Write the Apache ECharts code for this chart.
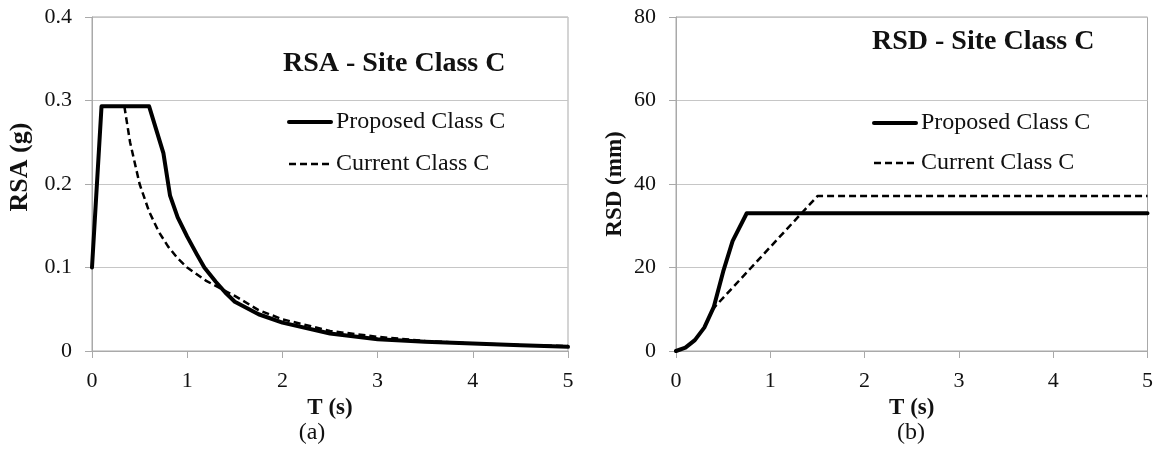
<!DOCTYPE html>
<html>
<head>
<meta charset="utf-8">
<script src="https://cdn.jsdelivr.net/npm/echarts@6/dist/echarts.min.js"></script>
<style>
  html, body { margin: 0; padding: 0; background: #ffffff; }
  #chart { width: 1156px; height: 453px; }
</style>
</head>
<body>
<div id="chart"></div>
<script>
// Spectral acceleration, site class C (g)
const rsaProposedT = [0, 0.1, 0.6, 0.75, 0.82, 0.9, 1.0, 1.1, 1.18, 1.3, 1.4, 1.5, 1.75, 2.0, 2.5, 3.0, 3.5, 4.0, 4.5, 5.0];
const rsaProposed  = [0.100, 0.293, 0.293, 0.237, 0.186, 0.160, 0.137, 0.116, 0.100, 0.083, 0.070, 0.059, 0.044, 0.034, 0.021, 0.014, 0.011, 0.009, 0.007, 0.005];
const rsaCurrentT  = [0.34, 0.4, 0.5, 0.6, 0.7, 0.8, 0.9, 1.0, 1.2, 1.5, 1.75, 2.0, 2.5, 3.0, 3.5, 4.0, 4.5, 5.0];
const rsaCurrent   = [0.293, 0.250, 0.200, 0.167, 0.143, 0.125, 0.111, 0.100, 0.084, 0.066, 0.049, 0.038, 0.024, 0.017, 0.012, 0.009, 0.007, 0.006];

// Spectral displacement, site class C (mm)
const rsdProposedT = [0, 0.1, 0.2, 0.3, 0.4, 0.5, 0.6, 0.75, 1, 2, 3, 4, 5];
const rsdProposed  = [0, 0.8, 2.6, 5.6, 10.5, 19.0, 26.3, 33.0, 33.0, 33.0, 33.0, 33.0, 33.0];
const rsdCurrentT  = [0.38, 1.5, 2, 3, 4, 5];
const rsdCurrent   = [9.8, 37.1, 37.1, 37.1, 37.1, 37.1];

const seriesNames = ['Proposed Class C', 'Current Class C'];
const panelTitles = ['RSA - Site Class C', 'RSD - Site Class C'];
const panelTags = ['(a)', '(b)'];
const xName = 'T (s)';
const yNames = ['RSA (g)', 'RSD (mm)'];

const FONT = '"Liberation Serif", "Times New Roman", serif';
const INK = '#111111';
const GRID_GRAY = '#c6c6c6';
const AXIS_GRAY = '#a9a9a9';

const pairs = (xs, ys) => xs.map((x, i) => [x, ys[i]]);

const solidStyle = { color: '#000000', width: 4, type: 'solid', cap: 'round', join: 'round' };
const dashStyle = { color: '#000000', width: 2.5, type: [7, 4] };

function xAxisFor(idx) {
  return {
    type: 'value', gridIndex: idx, min: 0, max: 5, interval: 1,
    name: xName, nameLocation: 'middle', nameGap: 37,
    nameTextStyle: { fontFamily: FONT, fontWeight: 'bold', fontSize: 23, color: INK },
    axisLine: { show: true, onZero: false, lineStyle: { color: AXIS_GRAY, width: 1 } },
    axisTick: { show: true, inside: false, length: 7, lineStyle: { color: AXIS_GRAY } },
    axisLabel: { margin: 19, fontFamily: FONT, fontSize: 22, color: INK },
    splitLine: { show: false }
  };
}

function yAxisFor(idx, max, interval, gap, nameStyle) {
  return {
    type: 'value', gridIndex: idx, min: 0, max: max, interval: interval,
    name: yNames[idx], nameLocation: 'middle', nameGap: gap, nameRotate: 90,
    nameTextStyle: Object.assign({ fontFamily: FONT, fontWeight: 'bold', fontSize: 23, color: INK }, nameStyle),
    axisLine: { show: true, lineStyle: { color: AXIS_GRAY, width: 1 } },
    axisTick: { show: true, inside: false, length: 7, lineStyle: { color: AXIS_GRAY } },
    axisLabel: { margin: 20, fontFamily: FONT, fontSize: 22, color: INK },
    splitLine: { show: true, lineStyle: { color: GRID_GRAY, width: 1 } }
  };
}

function lineSeries(name, idx, data, style) {
  return {
    name: name, type: 'line', xAxisIndex: idx, yAxisIndex: idx,
    data: data, showSymbol: false, symbol: 'none',
    lineStyle: style, itemStyle: { color: '#000000' },
    animation: false, silent: true
  };
}

// Legend entries: line sample only, no marker
function legendFor(left, top, gap) {
  return {
    orient: 'vertical', left: left, top: top, padding: 0, itemGap: gap,
    itemWidth: 42, itemHeight: 14,
    data: [
      { name: seriesNames[0], itemStyle: { opacity: 0 }, lineStyle: { width: 4, type: 'solid', color: '#000000' } },
      { name: seriesNames[1], itemStyle: { opacity: 0 }, lineStyle: { width: 2.5, type: [7, 4], color: '#000000' } }
    ],
    textStyle: { fontFamily: FONT, fontSize: 24, color: INK, lineHeight: 28 },
    selectedMode: false
  };
}

const chart = echarts.init(document.getElementById('chart'), null, { renderer: 'canvas' });

chart.setOption({
  backgroundColor: '#ffffff',
  animation: false,
  title: [
    { text: panelTitles[0], left: 283, top: 50, padding: 0,
      textStyle: { fontFamily: FONT, fontWeight: 'bold', fontSize: 28, color: INK } },
    { text: panelTitles[1], left: 872, top: 28, padding: 0,
      textStyle: { fontFamily: FONT, fontWeight: 'bold', fontSize: 28, color: INK } }
  ],
  legend: [legendFor(287, 108, 14), legendFor(872, 109, 12)],
  grid: [
    { left: 92, top: 17, width: 476, height: 334, show: true, borderColor: AXIS_GRAY, borderWidth: 1, backgroundColor: 'transparent' },
    { left: 676, top: 17, width: 473, height: 334, show: true, borderColor: AXIS_GRAY, borderWidth: 1, backgroundColor: 'transparent' }
  ],
  xAxis: [xAxisFor(0), xAxisFor(1)],
  yAxis: [
    yAxisFor(0, 0.4, 0.1, 59, { fontSize: 26, padding: [0, 0, 0, 34] }),
    yAxisFor(1, 80, 20, 49, {})
  ],
  series: [
    lineSeries(seriesNames[1], 0, pairs(rsaCurrentT, rsaCurrent), dashStyle),
    lineSeries(seriesNames[0], 0, pairs(rsaProposedT, rsaProposed), solidStyle),
    lineSeries(seriesNames[1], 1, pairs(rsdCurrentT, rsdCurrent), dashStyle),
    lineSeries(seriesNames[0], 1, pairs(rsdProposedT, rsdProposed), solidStyle)
  ],
  graphic: [
    { type: 'text', x: 312, y: 433, style: { text: panelTags[0], fontFamily: FONT, fontSize: 24, fill: INK, align: 'center', verticalAlign: 'middle' } },
    { type: 'text', x: 911, y: 433, style: { text: panelTags[1], fontFamily: FONT, fontSize: 24, fill: INK, align: 'center', verticalAlign: 'middle' } }
  ]
});
</script>
</body>
</html>
